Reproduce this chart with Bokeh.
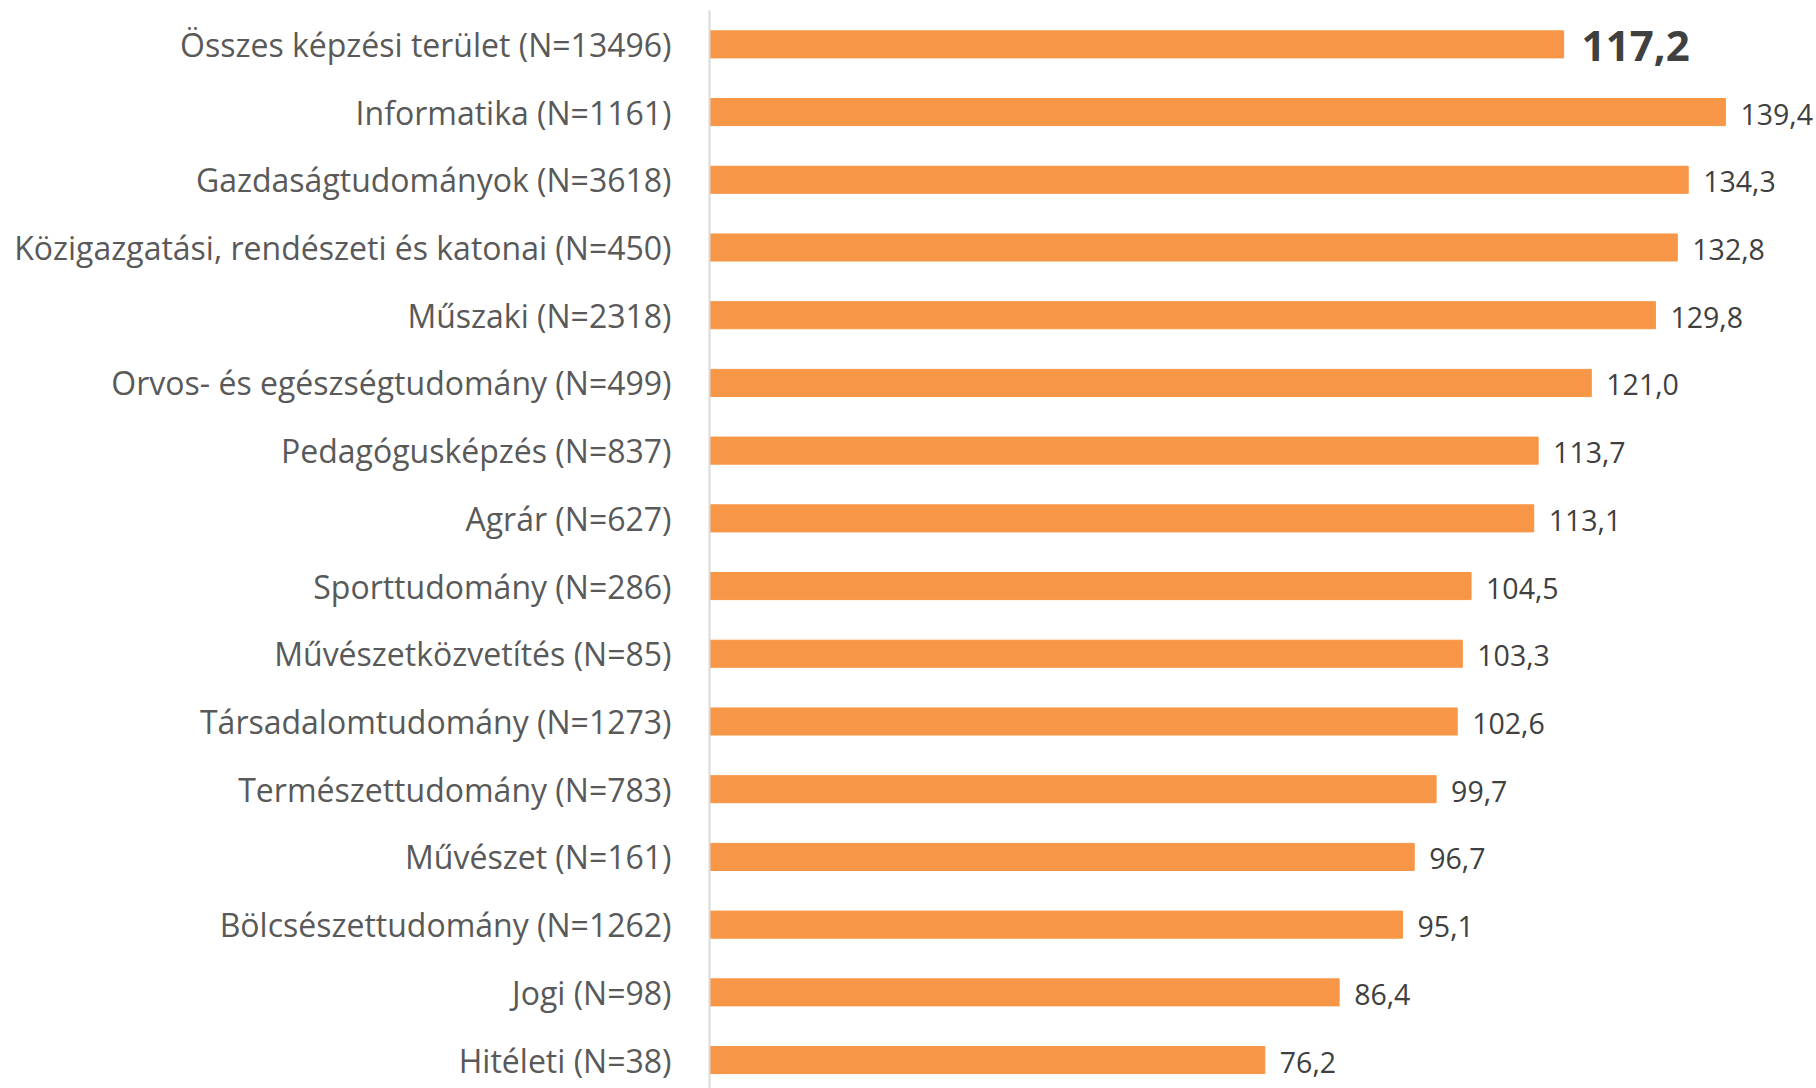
from bokeh.plotting import figure
from bokeh.models import ColumnDataSource, Range1d, FixedTicker
from bokeh.embed import file_html
from bokeh.resources import INLINE
from bokeh.core.properties import value

categories = [
    "Összes képzési terület (N=13496)",
    "Informatika (N=1161)",
    "Gazdaságtudományok (N=3618)",
    "Közigazgatási, rendészeti és katonai (N=450)",
    "Műszaki (N=2318)",
    "Orvos- és egészségtudomány (N=499)",
    "Pedagógusképzés (N=837)",
    "Agrár (N=627)",
    "Sporttudomány (N=286)",
    "Művészetközvetítés (N=85)",
    "Társadalomtudomány (N=1273)",
    "Természettudomány (N=783)",
    "Művészet (N=161)",
    "Bölcsészettudomány (N=1262)",
    "Jogi (N=98)",
    "Hitéleti (N=38)",
]
values = [117.2, 139.4, 134.3, 132.8, 129.8, 121.0, 113.7, 113.1,
          104.5, 103.3, 102.6, 99.7, 96.7, 95.1, 86.4, 76.2]

pos = list(range(len(categories)))
labels = [f"{v:.1f}".replace(".", ",") for v in values]

src = ColumnDataSource(dict(y=pos, v=values, lab=labels))
src_total = ColumnDataSource(dict(y=pos[:1], v=values[:1], lab=labels[:1]))
src_rest = ColumnDataSource(dict(y=pos[1:], v=values[1:], lab=labels[1:]))

p = figure(width=1816, height=1088, output_backend="svg", toolbar_location=None,
           x_range=Range1d(0, 151.9), y_range=Range1d(15.42, -0.5),
           min_border_left=709, min_border_right=0, min_border_top=10,
           min_border_bottom=0, x_axis_location=None)

p.hbar(y="y", right="v", left=0, height=0.4, source=src, color="#F79646")

p.text(x="v", y="y", text="lab", source=src_rest, x_offset=15, y_offset=2,
       text_align="left", text_baseline="middle", text_color="#404040",
       text_font=value("Open Sans"), text_font_size="28.5px")
p.text(x="v", y="y", text="lab", source=src_total, x_offset=18, y_offset=2,
       text_align="left", text_baseline="middle", text_color="#404040",
       text_font=value("Open Sans"), text_font_size="42px", text_font_style="bold")

ax = p.yaxis[0]
ax.ticker = FixedTicker(ticks=pos)
ax.major_label_overrides = {i: c for i, c in zip(pos, categories)}
ax.axis_line_color = "#d9d9d9"
ax.axis_line_width = 2
ax.major_tick_line_color = None
ax.minor_tick_line_color = None
ax.major_label_standoff = 32
ax.major_label_text_font = "Open Sans"
ax.major_label_text_font_size = "32px"
ax.major_label_text_color = "#595959"

p.xgrid.visible = False
p.ygrid.visible = False
p.outline_line_color = None

open("out.html", "w").write(file_html(p, INLINE))
